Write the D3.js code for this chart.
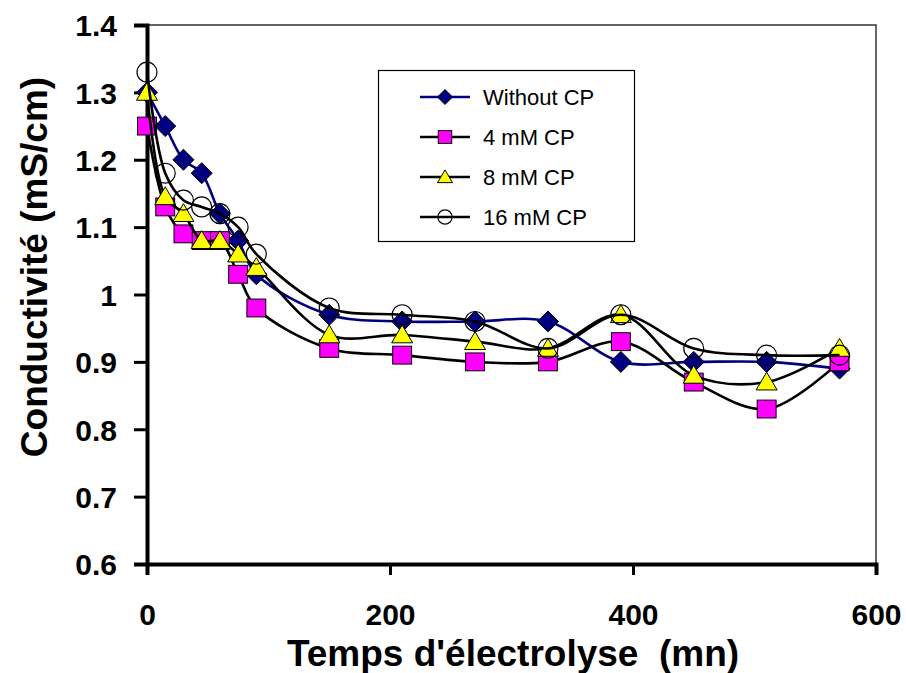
<!DOCTYPE html>
<html>
<head>
<meta charset="utf-8">
<script src="https://cdn.jsdelivr.net/npm/d3@7"></script>
<style>
  body { margin: 0; background: #fff; }
  svg text { font-family: "Liberation Sans", Arial, sans-serif; white-space: pre; }
</style>
</head>
<body>
<div id="chart"></div>
<script>
// Data
// ============================================================================
const time = [0, 15, 30, 45, 60, 75, 90, 150, 210, 270, 330, 390, 450, 510, 570];
const withoutCP = [1.30, 1.25, 1.20, 1.18, 1.12, 1.08, 1.03, 0.97, 0.96, 0.96, 0.96, 0.90, 0.90, 0.90, 0.89];
const cp4 = [1.25, 1.13, 1.09, 1.08, 1.08, 1.03, 0.98, 0.92, 0.91, 0.90, 0.90, 0.93, 0.87, 0.83, 0.90];
const cp8 = [1.30, 1.145, 1.12, 1.08, 1.08, 1.06, 1.04, 0.94, 0.94, 0.93, 0.92, 0.97, 0.88, 0.87, 0.92];
const cp16 = [1.33, 1.18, 1.14, 1.13, 1.12, 1.10, 1.06, 0.98, 0.97, 0.96, 0.92, 0.97, 0.92, 0.91, 0.91];
const seriesNames = ["Without CP", "4 mM CP", "8 mM CP", "16 mM CP"];
const xTicks = [0, 200, 400, 600];
const yTicks = [0.6, 0.7, 0.8, 0.9, 1.0, 1.1, 1.2, 1.3, 1.4];

const series = [
    {name: seriesNames[0], values: withoutCP, line: "#000080", marker: "diamond", fill: "#000080"},
    {name: seriesNames[1], values: cp4, line: "#000000", marker: "square", fill: "#FF00FF"},
    {name: seriesNames[2], values: cp8, line: "#000000", marker: "triangle", fill: "#FFFF00"},
    {name: seriesNames[3], values: cp16, line: "#000000", marker: "circle", fill: "none"},
];

// Layout
// ============================================================================
const W = 906, H = 673,
    margin = {top: 25, right: 30, bottom: 109, left: 147},
    width = W - margin.left - margin.right,
    height = H - margin.top - margin.bottom;

const svg = d3.select("#chart").append("svg")
    .attr("width", W)
    .attr("height", H);

const g = svg.append("g")
    .attr("transform", "translate(" + margin.left + "," + margin.top + ")");

const x = d3.scaleLinear().domain([0, 600]).range([0, 729]);
const y = d3.scaleLinear().domain([0.6, 1.4]).range([height, 0]);

// Plot area border (top/right)
g.append("path")
    .attr("d", "M0,0H" + x(600) + "V" + height)
    .attr("fill", "none")
    .attr("stroke", "#333")
    .attr("stroke-width", 1.5);

// Axes
const xAxis = g.append("g")
    .attr("transform", "translate(0," + height + ")")
    .call(d3.axisBottom(x).tickValues(xTicks).tickSize(11).tickPadding(29).tickFormat(d3.format("d")));
const yAxis = g.append("g")
    .call(d3.axisLeft(y).tickValues(yTicks).tickSize(13).tickPadding(17).tickFormat(d => d === 1 ? "1" : d3.format(".1f")(d)));

[xAxis, yAxis].forEach(a => {
    a.select(".domain").attr("stroke", "#000").attr("stroke-width", 4);
    a.selectAll(".tick line").attr("stroke", "#000").attr("stroke-width", 3);
    a.selectAll(".tick text")
        .attr("fill", "#000")
        .style("font-size", "30px")
        .style("font-weight", "bold");
});
yAxis.selectAll(".tick text").attr("dy", "0.36em");

// Axis titles
svg.append("text")
    .attr("x", 513)
    .attr("y", 666)
    .attr("text-anchor", "middle")
    .style("font-size", "37px")
    .style("font-weight", "bold")
    .text("Temps d'électrolyse  (mn)");

svg.append("text")
    .attr("transform", "translate(47,267) rotate(-90)")
    .attr("text-anchor", "middle")
    .style("font-size", "37px")
    .style("font-weight", "bold")
    .text("Conductivité (mS/cm)");

// Markers
function drawMarker(sel, s, size) {
    const r = size / 2;
    if (s.marker === "diamond") {
        sel.append("path").attr("d", "M0," + (-r) + "L" + r + ",0L0," + r + "L" + (-r) + ",0Z");
    } else if (s.marker === "square") {
        sel.append("rect").attr("x", -r * 0.9).attr("y", -r * 0.85).attr("width", r * 1.8).attr("height", r * 1.7);
    } else if (s.marker === "triangle") {
        sel.append("path").attr("d", "M0," + (-r * 0.95) + "L" + r + "," + (r * 0.75) + "L" + (-r) + "," + (r * 0.75) + "Z");
    } else {
        sel.append("circle").attr("r", r * 0.95);
    }
    sel.selectAll("*")
        .attr("fill", s.fill)
        .attr("stroke", "#000")
        .attr("stroke-width", s.marker === "circle" ? 1.2 : 1);
}

const line = d3.line()
    .x((d, i) => x(time[i]))
    .y(d => y(d))
    .curve(d3.curveCatmullRom.alpha(0.5));

series.forEach(s => {
    g.append("path")
        .datum(s.values)
        .attr("d", line)
        .attr("fill", "none")
        .attr("stroke", s.line)
        .attr("stroke-width", 2.6);
    g.selectAll(null)
        .data(s.values)
        .enter()
        .append("g")
            .attr("transform", (d, i) => "translate(" + x(time[i]) + "," + y(d) + ")")
            .each(function() { drawMarker(d3.select(this), s, 21); });
});

// Legend
// ============================================================================
const legend = svg.append("g");
legend.append("rect")
    .attr("x", 378.5)
    .attr("y", 70.5)
    .attr("width", 256)
    .attr("height", 171)
    .attr("fill", "#fff")
    .attr("stroke", "#000")
    .attr("stroke-width", 1.2);

series.forEach((s, i) => {
    const ly = 97 + i * 40;
    legend.append("line")
        .attr("x1", 420).attr("x2", 470)
        .attr("y1", ly).attr("y2", ly)
        .attr("stroke", s.line)
        .attr("stroke-width", 2.5);
    const m = legend.append("g").attr("transform", "translate(445," + ly + ")");
    drawMarker(m, s, 15);
    legend.append("text")
        .attr("x", 483)
        .attr("y", ly)
        .attr("dy", "0.36em")
        .style("font-size", "22px")
        .text(s.name);
});
</script>
</body>
</html>
